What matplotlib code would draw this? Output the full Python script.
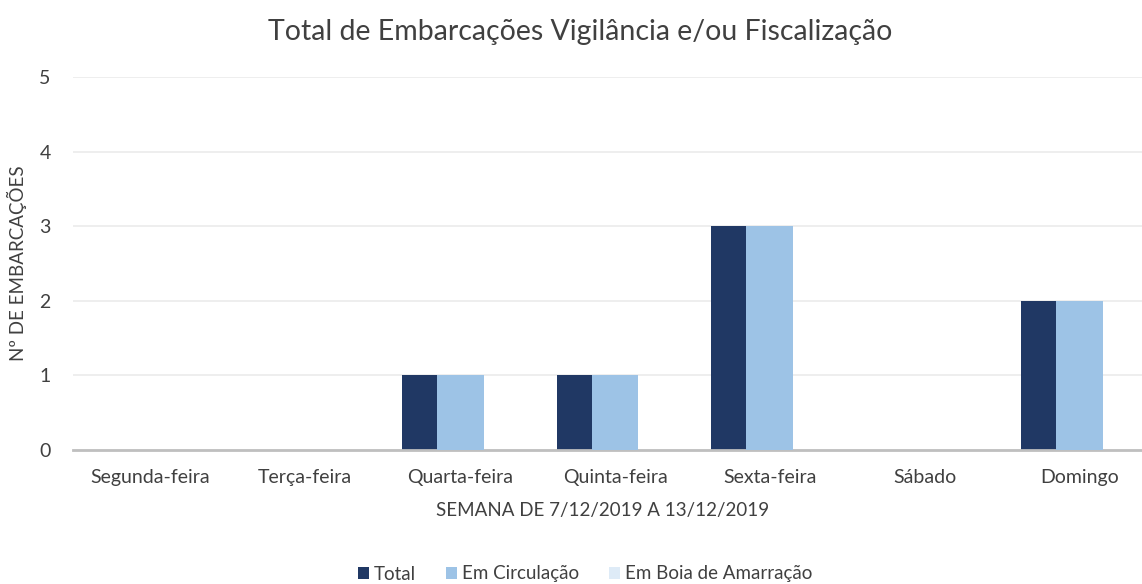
import numpy as np
import matplotlib.pyplot as plt

dias = ["Segunda-feira", "Terça-feira", "Quarta-feira", "Quinta-feira",
        "Sexta-feira", "Sábado", "Domingo"]
total = [0, 0, 1, 1, 3, 0, 2]
em_circulacao = [0, 0, 1, 1, 3, 0, 2]
em_boia = [0, 0, 0, 0, 0, 0, 0]

series = ["Total", "Em Circulação", "Em Boia de Amarração"]
cores = ["#203864", "#9DC3E6", "#DEEBF7"]

plt.rcParams['font.family'] = ['Lato', 'DejaVu Sans']
texto = "#404040"

fig = plt.figure(figsize=(11.42, 5.84), dpi=100)
# axis runs slightly past the right edge of the canvas
ax = fig.add_axes([73 / 1142, 134 / 584, 1084 / 1142, 373 / 584])

x = np.arange(len(dias))
largura = 0.303
passo = 0.226
for i, (vals, nome, cor) in enumerate(zip([total, em_circulacao, em_boia], series, cores)):
    ax.bar(x + (i - 1) * passo, vals, largura, color=cor, label=nome, zorder=2 + i)

ax.set_xlim(-0.5, len(dias) - 0.5)
ax.set_ylim(0, 5)
ax.set_yticks(range(6))
ax.set_xticks(x)
ax.set_xticklabels(dias)
ax.grid(axis='y', color='#EBEBEB', linewidth=1.2, zorder=0)
ax.set_axisbelow(True)
for s in ['top', 'right', 'left']:
    ax.spines[s].set_visible(False)
ax.spines['bottom'].set_color('#BFBFBF')
ax.spines['bottom'].set_linewidth(2)
ax.tick_params(axis='both', length=0, labelsize=14, colors=texto)
ax.tick_params(axis='y', pad=16)
ax.tick_params(axis='x', pad=14)

ax.set_ylabel("Nº DE EMBARCAÇÕES", fontsize=13.5, color=texto)
ax.yaxis.set_label_coords(-46 / 1084, 0.5)
ax.set_xlabel("SEMANA DE 7/12/2019 A 13/12/2019", fontsize=13.5, color=texto)
ax.xaxis.set_label_coords(0.5 - 12 / 1084, -52 / 373)

fig.text(580 / 1142, 1 - 32 / 584, "Total de Embarcações Vigilância e/ou Fiscalização",
         ha='center', va='center', fontsize=20.5, color=texto)

fig.legend(loc='center', bbox_to_anchor=(585 / 1142, 1 - 574 / 584), ncol=3,
           frameon=False, fontsize=13.5, handlelength=0.6, handleheight=0.6,
           handletextpad=0.25, columnspacing=1.6, labelcolor=texto)

fig.savefig("out.png", dpi=100)
